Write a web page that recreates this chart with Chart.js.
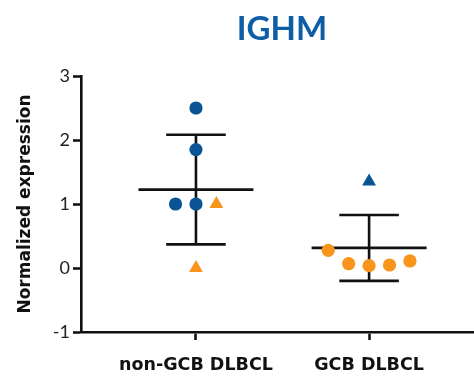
<!DOCTYPE html>
<html>
<head>
<meta charset="utf-8">
<script src="https://cdn.jsdelivr.net/npm/chart.js@4/dist/chart.umd.min.js"></script>
<style>
  html, body { margin: 0; padding: 0; background: #fff; overflow: hidden; }
  #wrap { width: 474px; height: 379px; }
  canvas { display: block; }
</style>
</head>
<body>
<div id="wrap"><canvas id="c" width="474" height="379"></canvas></div>
<script>
// Groups along the x axis
const categories = ['non-GCB DLBCL', 'GCB DLBCL'];
const yTicks = [-1, 0, 1, 2, 3];
const chartTitle = 'IGHM';

// Normalized IGHM expression per sample (group 1 = non-GCB, group 2 = GCB)
const nonGcbValues = [2.5, 1.85, 1.0, 1.0, 1.0, 0.0];
const gcbValues    = [1.35, 0.275, 0.067, 0.036, 0.047, 0.11];

// Sample subtype: 'n' = non-GCB sample (blue), 'g' = GCB sample (orange)
const nonGcbSubtype = ['n', 'n', 'n', 'n', 'g', 'g'];
const gcbSubtype    = ['n', 'g', 'g', 'g', 'g', 'g'];

// Horizontal spread slot of each dot within its column
const nonGcbSlot = [0, 0, -1, 0, 1, 0];
const gcbSlot    = [0, -2, -1, 0, 1, 2];

const BLUE = '#0a5496';
const ORANGE = '#f9941c';
const INK = '#111111';
const SLOT_W = 0.118;
const LABEL_FONT = 'DejaVu Sans';

function mean(a) { return a.reduce((s, v) => s + v, 0) / a.length; }
function sd(a) {
  const m = mean(a);
  return Math.sqrt(a.reduce((s, v) => s + (v - m) * (v - m), 0) / (a.length - 1));
}

const groups = [
  { values: nonGcbValues, subtype: nonGcbSubtype, slot: nonGcbSlot, trueType: 'n' },
  { values: gcbValues,    subtype: gcbSubtype,    slot: gcbSlot,    trueType: 'g' }
];

// Circles = sample agrees with its column, triangles = discordant sample
function pointsFor(color, shape) {
  const out = [];
  groups.forEach((g, gi) => {
    g.values.forEach((v, i) => {
      const col = g.subtype[i] === 'n' ? BLUE : ORANGE;
      const isCircle = g.subtype[i] === g.trueType;
      if (col === color && (shape === 'circle') === isCircle) {
        out.push({ x: gi + 1 + g.slot[i] * SLOT_W, y: v });
      }
    });
  });
  return out;
}

// Mean line with SD whiskers, drawn behind the dots
const meanSdPlugin = {
  id: 'meanSd',
  beforeDatasetsDraw(chart) {
    const { ctx, scales: { x, y } } = chart;
    ctx.save();
    ctx.strokeStyle = INK;
    ctx.lineWidth = 2.6;
    ctx.lineCap = 'butt';
    groups.forEach((g, gi) => {
      const c = gi + 1;
      const m = mean(g.values), s = sd(g.values);
      const seg = (x1, y1, x2, y2) => {
        ctx.beginPath();
        ctx.moveTo(x.getPixelForValue(x1), y.getPixelForValue(y1));
        ctx.lineTo(x.getPixelForValue(x2), y.getPixelForValue(y2));
        ctx.stroke();
      };
      seg(c - 0.332, m, c + 0.332, m);
      seg(c, m - s, c, m + s);
      seg(c - 0.172, m + s, c + 0.172, m + s);
      seg(c - 0.172, m - s, c + 0.172, m - s);
    });
    ctx.restore();
  }
};

// Chart heading, centred over the plot
const headingPlugin = {
  id: 'heading',
  afterDraw(chart) {
    const { ctx } = chart;
    ctx.save();
    ctx.fillStyle = '#0e5ea5';
    ctx.font = 'bold 33px Lato';
    ctx.textAlign = 'center';
    ctx.textBaseline = 'middle';
    ctx.fillText(chartTitle, 282, 29);
    ctx.restore();
  }
};

new Chart(document.getElementById('c'), {
  type: 'scatter',
  data: {
    datasets: [
      { data: pointsFor(BLUE, 'circle'), pointStyle: 'circle', pointRadius: 6.6, backgroundColor: BLUE, borderWidth: 0 },
      { data: pointsFor(ORANGE, 'circle'), pointStyle: 'circle', pointRadius: 6.6, backgroundColor: ORANGE, borderWidth: 0 },
      { data: pointsFor(BLUE, 'triangle'), pointStyle: 'triangle', pointRadius: 8, backgroundColor: BLUE, borderWidth: 0 },
      { data: pointsFor(ORANGE, 'triangle'), pointStyle: 'triangle', pointRadius: 8, backgroundColor: ORANGE, borderWidth: 0 }
    ]
  },
  options: {
    responsive: false,
    animation: false,
    events: [],
    layout: { autoPadding: false, padding: { top: 76, left: 0, right: 0, bottom: 0 } },
    plugins: {
      legend: { display: false },
      tooltip: { enabled: false },
      title: { display: false }
    },
    scales: {
      x: {
        type: 'linear',
        min: 0.336,
        max: 2.606,
        afterBuildTicks(scale) { scale.ticks = categories.map((_, i) => ({ value: i + 1 })); },
        afterFit(scale) { scale.height = 47; scale.paddingLeft = 0; scale.paddingRight = 0; },
        ticks: {
          autoSkip: false,
          maxRotation: 0,
          padding: 15,
          color: INK,
          font: { family: LABEL_FONT, size: 17.5, weight: 'bold' },
          callback: (v) => categories[Math.round(v) - 1]
        },
        grid: { drawOnChartArea: false, drawTicks: true, tickLength: 8, tickWidth: 2.6, tickColor: INK },
        border: { display: true, color: INK, width: 2.6 }
      },
      y: {
        type: 'linear',
        min: -1,
        max: 3,
        afterBuildTicks(scale) { scale.ticks = yTicks.map(v => ({ value: v })); },
        afterFit(scale) { scale.width = 81; scale.paddingTop = 0; scale.paddingBottom = 0; },
        ticks: {
          padding: 3,
          color: '#222',
          font: { family: 'Lato', size: 18 }
        },
        grid: { drawOnChartArea: false, drawTicks: true, tickLength: 8, tickWidth: 2.6, tickColor: INK },
        border: { display: true, color: INK, width: 2.6 },
        title: {
          display: true,
          text: 'Normalized expression',
          color: INK,
          font: { family: LABEL_FONT, size: 17, weight: 'bold', lineHeight: 1.2 },
          padding: { top: 15, bottom: 0 }
        }
      }
    }
  },
  plugins: [meanSdPlugin, headingPlugin]
});
</script>
</body>
</html>
